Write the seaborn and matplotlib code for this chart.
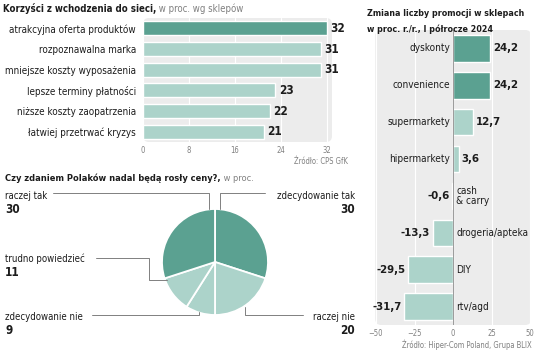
import matplotlib
matplotlib.use('Agg')
import matplotlib.pyplot as plt
import seaborn as sns
from matplotlib.patches import FancyBboxPatch
from matplotlib.lines import Line2D

# data
benefit_labels = ['atrakcyjna oferta produktów', 'rozpoznawalna marka', 'mniejsze koszty wyposażenia',
                  'lepsze terminy płatności', 'niższe koszty zaopatrzenia', 'łatwiej przetrwać kryzys']
benefit_values = [32, 31, 31, 23, 22, 21]
benefit_ticks = [0, 8, 16, 24, 32]

pie_labels = ['zdecydowanie tak', 'raczej nie', 'zdecydowanie nie', 'trudno powiedzieć', 'raczej tak']
pie_values = [30, 20, 9, 11, 30]

promo_labels = ['dyskonty', 'convenience', 'supermarkety', 'hipermarkety',
                'cash\n& carry', 'drogeria/apteka', 'DIY', 'rtv/agd']
promo_values = [24.2, 24.2, 12.7, 3.6, -0.6, -13.3, -29.5, -31.7]
promo_ticks = [-50, -25, 0, 25, 50]

DARK = '#5ba191'
LIGHT = '#acd3ca'
PANEL = '#ececec'
TEXT = '#1c1c1c'
GREY = '#808080'

sns.set_style('white')
plt.rcParams['font.family'] = ['DejaVu Sans']
plt.rcParams['font.stretch'] = 'condensed'

W, H = 536, 351
fig = plt.figure(figsize=(W / 100, H / 100), dpi=100)


def axes_px(left, top, width, height):
    return fig.add_axes([left / W, 1 - (top + height) / H, width / W, height / H])


def fx(x):
    return x / W


def fy(y):
    return 1 - y / H


def panel(ax, w, h, r=6):
    ax.patch.set_visible(False)
    bg = FancyBboxPatch((0, 0), 1, 1, boxstyle=f'round,pad=0,rounding_size={r / w}',
                        mutation_aspect=w / h, transform=ax.transAxes,
                        facecolor=PANEL, edgecolor='none', zorder=-1)
    ax.add_patch(bg)
    for s in ax.spines.values():
        s.set_visible(False)


def fmt(v):
    return f'{v:.1f}'.replace('.', ',')


# ---- top left: benefits bar chart
ax1 = axes_px(143, 18, 189, 124)
panel(ax1, 189, 124)
sns.barplot(x=benefit_values, y=benefit_labels, hue=benefit_labels,
            palette=[DARK] + [LIGHT] * 5, orient='h', width=0.68,
            saturation=1, legend=False, ax=ax1, zorder=2)
ax1.set_xlim(0, 189 / 5.75)
ax1.set_xticks(benefit_ticks)
ax1.grid(axis='x', color='white', linewidth=0.8)
ax1.set_axisbelow(True)
ax1.tick_params(axis='x', length=0, labelsize=5.5, labelcolor=GREY, pad=3)
ax1.tick_params(axis='y', length=0, labelsize=7.1, labelcolor=TEXT, pad=5)
ax1.set_xlabel('')
ax1.set_ylabel('')
for i, v in enumerate(benefit_values):
    ax1.text(v + 0.6, i, str(v), va='center', ha='left', fontsize=8.5,
             fontweight='bold', color=TEXT)

t = fig.text(fx(3), fy(12), 'Korzyści z wchodzenia do sieci,', fontsize=6.9,
             fontweight='bold', color=TEXT, va='baseline')
fig.canvas.draw()
bb = t.get_window_extent()
fig.text(bb.x1 / W, fy(12), ' w proc. wg sklepów', fontsize=6.9,
         color=GREY, va='baseline')
fig.text(fx(348), fy(161), 'Źródło: CPS GfK', fontsize=5.5, color=GREY,
         ha='right', va='center')

# ---- bottom left: pie
cx, cy, R = 215, 262, 53
ax2 = axes_px(cx - R, cy - R, 2 * R, 2 * R)
ax2.pie(pie_values, colors=[DARK, LIGHT, LIGHT, LIGHT, DARK], startangle=90,
        counterclock=False, wedgeprops=dict(edgecolor='white', linewidth=1.3))
ax2.set_xlim(-1, 1)
ax2.set_ylim(-1, 1)

t = fig.text(fx(5), fy(181), 'Czy zdaniem Polaków nadal będą rosły ceny?,',
             fontsize=6.7, fontweight='bold', color=TEXT, va='baseline')
fig.canvas.draw()
bb = t.get_window_extent()
fig.text(bb.x1 / W, fy(181), ' w proc.', fontsize=6.7, color=GREY,
         va='baseline')

# label text positions (px) and leader paths (px)
pie_text = {
    'zdecydowanie tak': (355, 196, 'right'),
    'raczej nie': (355, 317, 'right'),
    'zdecydowanie nie': (5, 317, 'left'),
    'trudno powiedzieć': (5, 259, 'left'),
    'raczej tak': (5, 196, 'left'),
}
leaders = {
    'zdecydowanie tak': [(265, 193), (220, 193), (220, 209.5)],
    'raczej nie': [(303, 315), (245, 315), (245, 307)],
    'zdecydowanie nie': [(92, 315), (199, 315), (199, 312)],
    'trudno powiedzieć': [(96, 258), (149, 258), (149, 280), (167, 280)],
    'raczej tak': [(53, 193), (209, 193), (209, 209.5)],
}
for lab, val in zip(pie_labels, pie_values):
    x, y, ha = pie_text[lab]
    fig.text(fx(x), fy(y), lab, fontsize=6.9, color=TEXT, ha=ha, va='center')
    fig.text(fx(x), fy(y + 13.5), str(val), fontsize=8.5, fontweight='bold',
             color=TEXT, ha=ha, va='center')
    pts = leaders[lab]
    fig.add_artist(Line2D([fx(p[0]) for p in pts], [fy(p[1]) for p in pts],
                          transform=fig.transFigure, color=GREY, linewidth=0.7))

# ---- right: promotions change
scale = 1.54
x0 = 453
lo, hi = -50.5, 50.8
ax3 = axes_px(x0 + lo * scale, 30, (hi - lo) * scale, 295)
panel(ax3, (hi - lo) * scale, 295)
sns.barplot(x=promo_values, y=promo_labels, hue=promo_labels,
            palette=[DARK, DARK] + [LIGHT] * 6, orient='h', width=0.72,
            saturation=1, legend=False, ax=ax3, zorder=2)
ax3.set_xlim(lo, hi)
ax3.set_xticks(promo_ticks)
ax3.set_yticks([])
ax3.grid(axis='x', color='white', linewidth=0.8)
ax3.set_axisbelow(True)
ax3.axvline(0, color='#9a9a9a', linewidth=0.7, zorder=3)
ax3.tick_params(axis='x', length=0, labelsize=5.5, labelcolor=GREY, pad=3)
ax3.set_xlabel('')
ax3.set_ylabel('')
for i, (lab, v) in enumerate(zip(promo_labels, promo_values)):
    if v >= 0:
        ax3.text(-2, i, lab, ha='right', va='center', fontsize=7.2, color=TEXT)
        ax3.text(v + 2, i, fmt(v), ha='left', va='center', fontsize=8.2,
                 fontweight='bold', color=TEXT)
    else:
        ax3.text(2, i, lab, ha='left', va='center', fontsize=7.2, color=TEXT,
                 linespacing=0.95)
        ax3.text(v - 1.5, i, fmt(v), ha='right', va='center', fontsize=8.2,
                 fontweight='bold', color=TEXT)

fig.text(fx(367), fy(16), 'Zmiana liczby promocji w sklepach', fontsize=6.4,
         fontweight='bold', color=TEXT, va='baseline')
fig.text(fx(367), fy(32), 'w proc. r./r., I półrocze 2024', fontsize=6.4,
         fontweight='bold', color=TEXT, va='baseline')
fig.text(fx(532), fy(345), 'Źródło: Hiper-Com Poland, Grupa BLIX', fontsize=5.5,
         color=GREY, ha='right', va='center')

fig.savefig('out.png', dpi=100)
